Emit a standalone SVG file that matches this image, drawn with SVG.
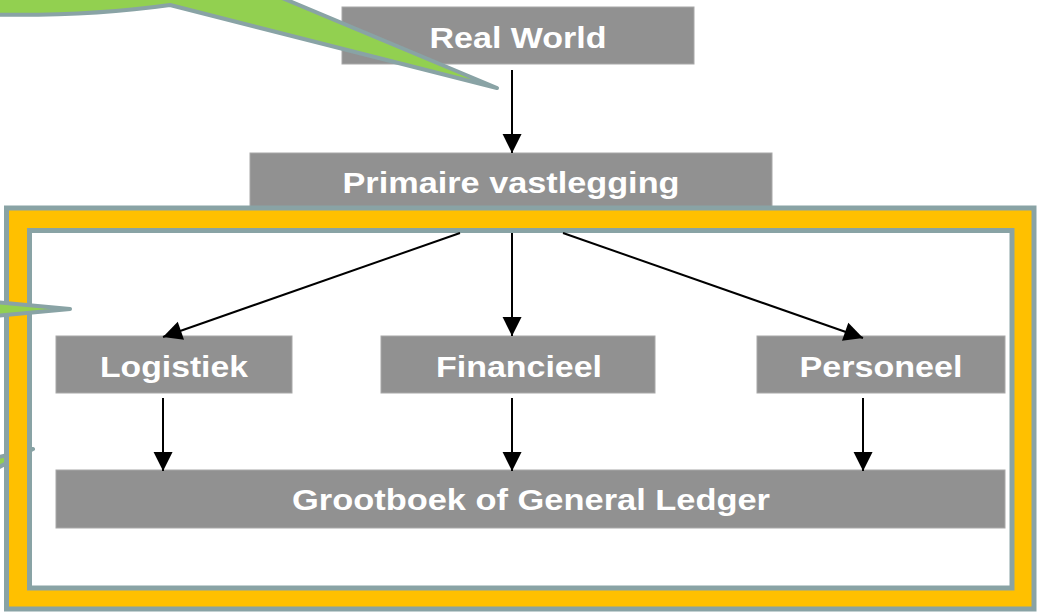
<svg xmlns="http://www.w3.org/2000/svg" width="1038" height="613" viewBox="0 0 1038 613">
<style>
.box{fill:#919191;stroke:#A8A8A8;stroke-width:1}
.lbl{font-family:"Liberation Sans",Arial,sans-serif;font-weight:bold;font-size:29px;fill:#FFFFFF;text-anchor:middle}
.con{stroke:#000;stroke-width:2;fill:none;marker-end:url(#ah)}
.call{fill:#92D050;stroke:#89A3A5;stroke-width:4;stroke-linejoin:round}
</style>
<defs>
<marker id="ah" viewBox="0 0 10 10" refX="10" refY="5" markerWidth="10" markerHeight="10" markerUnits="userSpaceOnUse" orient="auto" overflow="visible">
<path d="M0,0 L10,5 L0,10 Z" fill="#000" transform="scale(1.9) translate(-4.7,-2.4)"/>
</marker>
</defs>
<rect width="1038" height="613" fill="#FFFFFF"/>
<g id="callout3"><path class="call" d="M33,449 L-100,480 L-100,520 Z"/></g>
<g id="node-realworld"><rect class="box" x="342" y="7" width="352" height="57"/><text class="lbl" x="518" y="48" textLength="177" lengthAdjust="spacingAndGlyphs">Real World</text></g>
<g id="node-primaire"><rect class="box" x="250" y="153" width="522" height="54"/><text class="lbl" x="511" y="193" textLength="337" lengthAdjust="spacingAndGlyphs">Primaire vastlegging</text></g>
<g id="frame">
<path d="M6.5,208 H1034 V609 H6.5 Z M29.5,230.5 V588 H1012 V230.5 Z" fill="#FFC000" fill-rule="evenodd"/>
<rect x="6.5" y="208" width="1027.5" height="401" fill="none" stroke="#89A3A5" stroke-width="5"/>
<rect x="29.5" y="230.5" width="982.5" height="357.5" fill="none" stroke="#89A3A5" stroke-width="5"/>
</g>
<g id="callout1"><path class="call" d="M-30,-60 L-30,14 C60,17 120,12 170,5 L497,88 L275,-5 L275,-60 Z"/></g>
<g id="callout2"><path class="call" d="M-100,293 L70,309 L-100,325 Z"/></g>
<g id="node-logistiek"><rect class="box" x="56" y="336" width="236" height="57"/><text class="lbl" x="174" y="377" textLength="148" lengthAdjust="spacingAndGlyphs">Logistiek</text></g>
<g id="node-financieel"><rect class="box" x="381" y="336" width="274" height="57"/><text class="lbl" x="519" y="377" textLength="166" lengthAdjust="spacingAndGlyphs">Financieel</text></g>
<g id="node-personeel"><rect class="box" x="757" y="336" width="248" height="57"/><text class="lbl" x="881" y="377" textLength="163" lengthAdjust="spacingAndGlyphs">Personeel</text></g>
<g id="node-grootboek"><rect class="box" x="56" y="470" width="949" height="58"/><text class="lbl" x="531" y="510" textLength="478" lengthAdjust="spacingAndGlyphs">Grootboek of General Ledger</text></g>
<g id="connectors">
<line class="con" x1="512" y1="70" x2="512" y2="153"/>
<line class="con" x1="460" y1="233" x2="163" y2="337"/>
<line class="con" x1="512" y1="233" x2="512" y2="336"/>
<line class="con" x1="563" y1="233" x2="863" y2="338"/>
<line class="con" x1="163" y1="398" x2="163" y2="471"/>
<line class="con" x1="512" y1="398" x2="512" y2="471"/>
<line class="con" x1="863" y1="398" x2="863" y2="471"/>
</g>
</svg>
